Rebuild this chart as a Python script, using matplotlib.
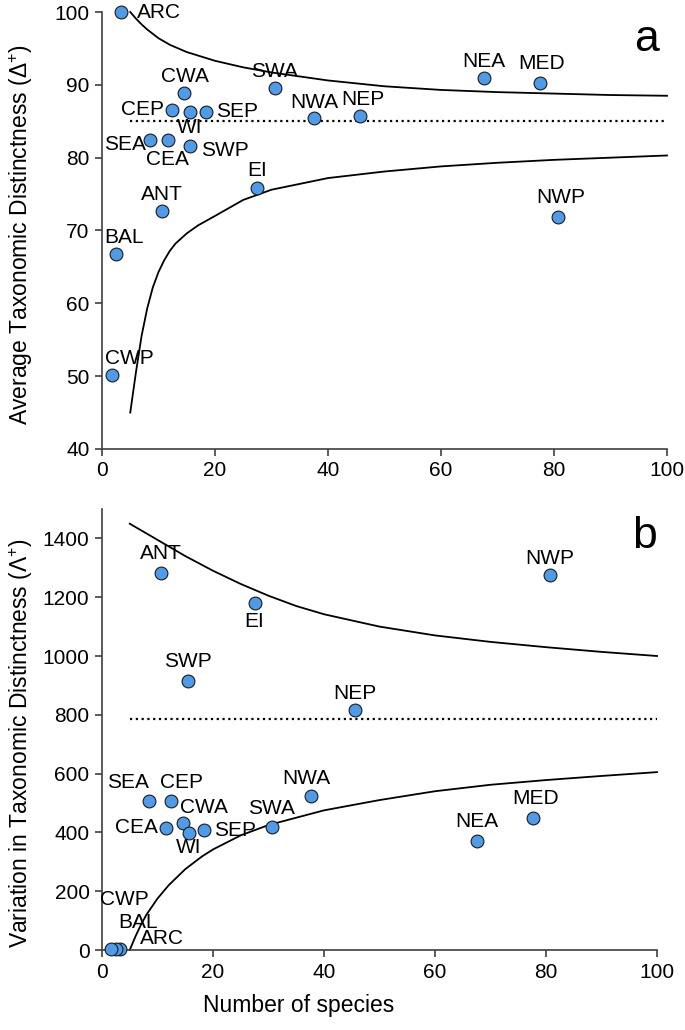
import matplotlib
matplotlib.use("Agg")
import matplotlib.pyplot as plt

plt.rcParams['font.family'] = ['Liberation Sans', 'DejaVu Sans']
plt.rcParams['mathtext.fontset'] = 'custom'
plt.rcParams['mathtext.rm'] = 'Liberation Sans'

# regions and number of species (shared by both panels)
regions = ['ARC', 'BAL', 'CWP', 'ANT', 'CEA', 'CEP', 'CWA', 'EI', 'MED',
           'NEA', 'NEP', 'NWA', 'NWP', 'SEA', 'SEP', 'SWA', 'SWP', 'WI']
n_species = [3.3, 2.5, 1.7, 10.6, 11.6, 12.4, 14.6, 27.5, 77.6,
             67.6, 45.6, 37.6, 80.7, 8.5, 18.4, 30.6, 15.5, 15.6]

# panel a: average taxonomic distinctness
delta_plus = [100.0, 66.8, 50.1, 72.7, 82.4, 86.6, 88.9, 75.9, 90.2,
              90.9, 85.7, 85.5, 71.8, 82.4, 86.3, 89.6, 81.6, 86.3]
delta_mean = 85.0
a_up_x = [5, 6, 7, 8, 10, 12, 15, 20, 25, 30, 40, 50, 60, 70, 80, 90, 100]
a_up_y = [100, 99.1, 98.3, 97.6, 96.4, 95.5, 94.5, 93.3, 92.4, 91.7, 90.6, 89.8,
          89.3, 89.0, 88.8, 88.6, 88.5]
a_lo_x = [5, 6, 7, 8, 9, 10, 11, 12, 13, 15, 17, 20, 25, 30, 40, 50, 60, 70, 80, 90, 100]
a_lo_y = [45, 50.5, 55.5, 59.3, 62.2, 64.3, 65.9, 67.2, 68.2, 69.6, 70.7, 72.0, 74.2,
          75.6, 77.2, 78.1, 78.8, 79.3, 79.7, 80.0, 80.3]

# panel b: variation in taxonomic distinctness
lambda_plus = [5, 5, 5, 1283, 415, 508, 433, 1179, 450,
               370, 816, 525, 1276, 508, 408, 420, 915, 399]
lambda_mean = 786
b_up_x = [5, 10, 15, 20, 25, 30, 35, 40, 50, 60, 70, 80, 90, 100]
b_up_y = [1450, 1395, 1340, 1290, 1245, 1205, 1170, 1142, 1100, 1070, 1048, 1030,
          1014, 1000]
b_lo_x = [5, 6, 7, 8, 10, 12, 15, 18, 20, 25, 30, 40, 50, 60, 70, 80, 90, 100]
b_lo_y = [0, 45, 85, 120, 175, 220, 275, 318, 342, 390, 425, 475, 510, 540, 562,
          578, 592, 605]

# label offsets in points (dx, dy, ha)
off_a = {'ARC': (12, 0, 'left'), 'BAL': (6, 12, 'center'), 'CWP': (13, 12, 'center'),
         'ANT': (0, 12, 'center'), 'CEA': (0, -14, 'center'), 'CEP': (-6, 0, 'right'),
         'CWA': (0, 12, 'center'), 'EI': (0, 12, 'center'), 'MED': (1, 14, 'center'),
         'NEA': (0, 12, 'center'), 'NEP': (2, 12, 'center'), 'NWA': (0, 11, 'center'),
         'NWP': (2, 14, 'center'), 'SEA': (-3, -3, 'right'), 'SEP': (7, 0, 'left'),
         'SWA': (0, 12, 'center'), 'SWP': (8, -3, 'left'), 'WI': (0, -11, 'center')}
off_b = {'ARC': (30, 7, 'center'), 'BAL': (16, 19, 'center'), 'CWP': (9, 35, 'center'),
         'ANT': (0, 14, 'center'), 'CEA': (-6, 0, 'right'), 'CEP': (8, 13, 'center'),
         'CWA': (15, 11, 'center'), 'EI': (0, -13, 'center'), 'MED': (2, 14, 'center'),
         'NEA': (0, 14, 'center'), 'NEP': (0, 12, 'center'), 'NWA': (-3, 12, 'center'),
         'NWP': (0, 12, 'center'), 'SEA': (-15, 13, 'center'), 'SEP': (7, 0, 'left'),
         'SWA': (0, 13, 'center'), 'SWP': (0, 14, 'center'), 'WI': (0, -11, 'center')}

W, H = 685, 1030
fig = plt.figure(figsize=(W / 100, H / 100), dpi=100)
ax1 = fig.add_axes([102 / W, 1 - 449 / H, (667 - 102) / W, (449 - 12) / H])
ax2 = fig.add_axes([102 / W, 1 - 950 / H, (657 - 102) / W, (950 - 509) / H])

point_color = '#4f9be8'
axis_color = '#404040'
fs = 15


def draw_panel(ax, yvals, mean, ux, uy, lx, ly, offsets):
    ax.plot(ux, uy, color='black', lw=1.3, clip_on=False)
    ax.plot(lx, ly, color='black', lw=1.3, clip_on=False)
    ax.plot([5, 100], [mean, mean], color='black', lw=1.6, linestyle=(0, (1, 1.6)))
    ax.scatter(n_species, yvals, s=85, color=point_color, edgecolor='#1a1a1a',
               linewidth=0.8, zorder=3, clip_on=False)
    for name, xv, yv in zip(regions, n_species, yvals):
        dx, dy, ha = offsets[name]
        ax.annotate(name, (xv, yv), xytext=(dx, dy), textcoords='offset points',
                    ha=ha, va='center', fontsize=fs)
    for side in ['top', 'right']:
        ax.spines[side].set_visible(False)
    for side in ['left', 'bottom']:
        ax.spines[side].set_color(axis_color)
        ax.spines[side].set_linewidth(1.2)
    ax.tick_params(direction='out', length=5, width=1.2, color=axis_color,
                   labelsize=fs, pad=4)
    ax.set_xlim(0, 100)
    ax.set_xticks([0, 20, 40, 60, 80, 100])


draw_panel(ax1, delta_plus, delta_mean, a_up_x, a_up_y, a_lo_x, a_lo_y, off_a)
ax1.set_ylim(40, 100)
ax1.set_yticks([40, 50, 60, 70, 80, 90, 100])
ax1.set_ylabel('Average Taxonomic Distinctness (Δ$^{+}$)', fontsize=16.5)
ax1.yaxis.set_label_coords(-0.118, 0.49)
ax1.text(0.985, 0.985, 'a', transform=ax1.transAxes, fontsize=32, ha='right', va='top')

draw_panel(ax2, lambda_plus, lambda_mean, b_up_x, b_up_y, b_lo_x, b_lo_y, off_b)
ax2.set_ylim(0, 1500)
ax2.set_yticks([0, 200, 400, 600, 800, 1000, 1200, 1400])
ax2.set_ylabel('Variation in Taxonomic Distinctness (Λ$^{+}$)', fontsize=16.5)
ax2.yaxis.set_label_coords(-0.120, 0.47)
ax2.set_xlabel('Number of species', fontsize=16.5)
ax2.xaxis.set_label_coords(0.355, -0.1)
ax2.text(1.0, 0.985, 'b', transform=ax2.transAxes, fontsize=32, ha='right', va='top')

fig.savefig('out.png', dpi=100)
